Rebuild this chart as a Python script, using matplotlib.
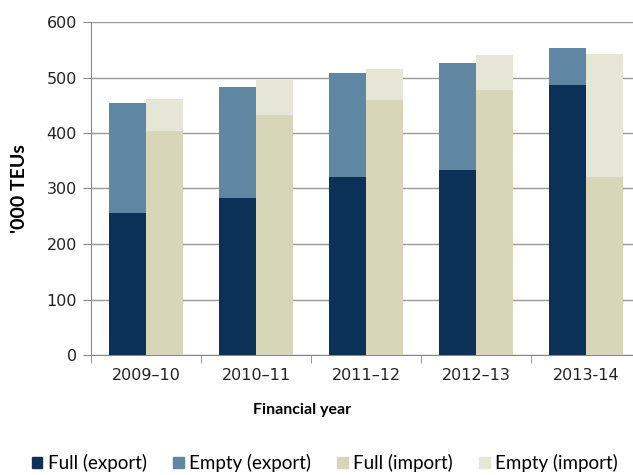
import numpy as np
import matplotlib.pyplot as plt
from matplotlib.patches import Patch

years = ['2009\u201310', '2010\u201311', '2011\u201312', '2012\u201313', '2013-14']
full_export = [256, 282, 321, 334, 486]
empty_export = [198, 200, 187, 192, 68]
full_import = [404, 433, 459, 478, 321]
empty_import = [58, 62, 57, 63, 221]

c_full_exp = '#0B3256'
c_empty_exp = '#5F87A4'
c_full_imp = '#D7D6B8'
c_empty_imp = '#E6E6D6'

plt.rcParams['font.family'] = ['Lato', 'DejaVu Sans']

fig = plt.figure(figsize=(6.33, 4.75), dpi=100)
ax = fig.add_axes([91 / 633, 1 - 355 / 475, 550 / 633, 333 / 475])

x = np.arange(len(years))
w = 0.336
ax.bar(x - w / 2, full_export, w, color=c_full_exp, zorder=3)
ax.bar(x - w / 2, empty_export, w, bottom=full_export, color=c_empty_exp, zorder=3)
ax.bar(x + w / 2, full_import, w, color=c_full_imp, zorder=3)
ax.bar(x + w / 2, empty_import, w, bottom=full_import, color=c_empty_imp, zorder=3)

ax.set_xlim(-0.5, len(years) - 0.5)
ax.set_ylim(0, 600)
ax.set_yticks(range(0, 601, 100))
ax.set_yticklabels([str(v) for v in range(0, 601, 100)], family=['DejaVu Sans'], fontsize=11.5)
ax.set_xticks(x)
ax.set_xticklabels(years, family=['DejaVu Sans'], fontsize=11.5, color='#222222')
ax.set_xticks(np.arange(-0.5, len(years), 1), minor=True)
ax.tick_params(axis='x', which='major', length=0, pad=9)
ax.tick_params(axis='x', which='minor', length=6, color='#888888', direction='out')
ax.tick_params(axis='y', length=6, color='#888888', labelcolor='#222222', pad=4)

ax.grid(axis='y', color='#999999', linewidth=1, zorder=0)
for s in ['top', 'right']:
    ax.spines[s].set_visible(False)
for s in ['left', 'bottom']:
    ax.spines[s].set_color('#888888')

fig.text(20 / 633, 1 - 189 / 475, "'000 TEUs", fontsize=14, fontweight='bold',
         rotation=90, ha='center', va='center')
fig.text(302 / 633, 1 - 410 / 475, 'Financial year', fontsize=11.5,
         fontweight='bold', ha='center', va='center')

handles = [Patch(color=c) for c in [c_full_exp, c_empty_exp, c_full_imp, c_empty_imp]]
labels = ['Full (export)', 'Empty (export)', 'Full (import)', 'Empty (import)']
fig.legend(handles, labels, ncol=4, loc='center', bbox_to_anchor=(325 / 633, 1 - 463 / 475),
           frameon=False, fontsize=13.5, handlelength=0.55, handleheight=0.55,
           handletextpad=0.3, columnspacing=1.4, borderpad=0, borderaxespad=0)

fig.savefig('out.png', dpi=100)
